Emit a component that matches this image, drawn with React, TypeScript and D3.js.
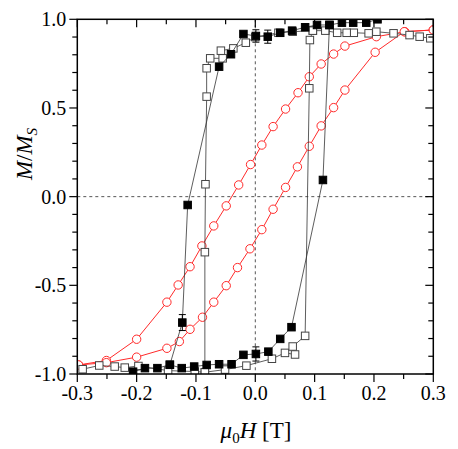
import * as d3 from "d3";

// filled squares, branch from positive to negative field
const filledDown: [number, number][] = [
  [0.206, 1.0], [0.187, 0.981], [0.165, 0.981], [0.146, 0.981], [0.125, 0.968],
  [0.104, 0.968], [0.084, 0.955], [0.062, 0.936], [0.042, 0.924], [0.021, 0.902],
  [0.001, 0.906], [-0.02, 0.917], [-0.041, 0.803], [-0.061, 0.733], [-0.114, -0.047],
  [-0.123, -0.71], [-0.144, -0.948], [-0.165, -0.967], [-0.186, -0.967], [-0.206, -0.987],
];
const filledUp: [number, number][] = [
  [-0.144, -0.948], [-0.124, -0.967], [-0.103, -0.958], [-0.082, -0.949], [-0.061, -0.945],
  [-0.04, -0.945], [-0.02, -0.892], [0.001, -0.887], [0.022, -0.874], [0.042, -0.802],
  [0.061, -0.736], [0.114, 0.094], [0.125, 0.968],
];
// open squares
const openDown: [number, number][] = [
  [0.295, 0.893], [0.277, 0.902], [0.26, 0.911], [0.233, 0.921], [0.204, 0.93],
  [0.191, 0.921], [0.166, 0.924], [0.154, 0.924], [0.138, 0.924], [0.118, 0.936],
  [0.097, 0.936], [0.063, 0.93], [0.039, 0.924], [0.0, 0.9], [-0.016, 0.868],
  [-0.037, 0.836], [-0.058, 0.823], [-0.055, 0.78], [-0.076, 0.78], [-0.082, 0.724],
  [-0.082, 0.564], [-0.084, 0.07], [-0.085, -0.313], [-0.085, -0.99], [-0.102, -0.986],
  [-0.147, -0.981], [-0.197, -0.955], [-0.22, -0.964], [-0.237, -0.958], [-0.263, -0.952],
  [-0.291, -0.973],
];
const openUp: [number, number][] = [
  [-0.085, -0.99], [-0.051, -0.975], [-0.015, -0.953], [0.028, -0.914], [0.05, -0.881],
  [0.067, -0.89], [0.063, -0.845], [0.084, -0.785], [0.091, 0.611], [0.092, 0.883],
  [0.097, 0.936],
];
// red open circles
const redDown: [number, number][] = [
  [0.3, 0.94], [0.252, 0.93], [0.204, 0.902], [0.151, 0.849], [0.132, 0.804],
  [0.111, 0.748], [0.091, 0.676], [0.072, 0.586], [0.051, 0.494], [0.03, 0.395],
  [0.011, 0.291], [-0.008, 0.181], [-0.028, 0.066], [-0.049, -0.052], [-0.07, -0.165],
  [-0.09, -0.278], [-0.11, -0.395], [-0.13, -0.498], [-0.149, -0.595], [-0.2, -0.804],
  [-0.251, -0.924], [-0.298, -0.949],
];
const redUp: [number, number][] = [
  [-0.298, -0.949], [-0.251, -0.936], [-0.2, -0.905], [-0.149, -0.855], [-0.128, -0.817],
  [-0.11, -0.748], [-0.089, -0.68], [-0.07, -0.595], [-0.049, -0.502], [-0.03, -0.4],
  [-0.009, -0.294], [0.011, -0.186], [0.03, -0.071], [0.051, 0.052], [0.071, 0.168],
  [0.091, 0.284], [0.111, 0.399], [0.132, 0.502], [0.151, 0.601], [0.202, 0.814],
  [0.251, 0.93], [0.3, 0.94],
];
// error bars on filled squares [x, y, half-width]
const errBars: [number, number, number][] = [
  [0.001, 0.906, 0.035], [0.021, 0.902, 0.037], [0.001, -0.887, 0.04], [-0.123, -0.71, 0.045],
];

const xTicks = [-0.3, -0.2, -0.1, 0.0, 0.1, 0.2, 0.3];
const yTicks = [-1.0, -0.5, 0.0, 0.5, 1.0];

const serif = { fontFamily: "Liberation Serif" };

export default function App() {
  const width = 458;
  const height = 449;
  const x = d3.scaleLinear().domain([-0.3, 0.3]).range([77.3, 433.3]);
  const y = d3.scaleLinear().domain([-1, 1]).range([374, 19.3]);
  const line = d3
    .line<[number, number]>()
    .x((d) => x(d[0]))
    .y((d) => y(d[1]));
  const [x0, x1] = x.range();
  const [y0, y1] = y.range();
  const minorX = d3.range(-0.3, 0.3001, 0.05);
  const minorY = d3.range(-1, 1.0001, 0.1);
  const sq = 7.5;
  const lineColor = "#333";

  return (
    <svg
      width={width}
      height={height}
      style={{ position: "absolute", left: 0, top: 0, background: "#fff" }}
    >
      <defs>
        <clipPath id="plot">
          <rect x={x0} y={y1} width={x1 - x0} height={y0 - y1} />
        </clipPath>
      </defs>

      {/* zero lines */}
      <line x1={x(0)} x2={x(0)} y1={y1} y2={y0} stroke="#555" strokeDasharray="3,3" />
      <line x1={x0} x2={x1} y1={y(0)} y2={y(0)} stroke="#555" strokeDasharray="3,3" />

      <g clipPath="url(#plot)">
        {[redDown, redUp].map((s, i) => (
          <g key={"r" + i}>
            <path d={line(s) ?? ""} fill="none" stroke="#ff2a2a" strokeWidth={1} />
            {s.map((d, j) => (
              <circle key={j} cx={x(d[0])} cy={y(d[1])} r={4.2} fill="#fff" stroke="#ff2a2a" strokeWidth={1} />
            ))}
          </g>
        ))}
        {[openDown, openUp].map((s, i) => (
          <g key={"o" + i}>
            <path d={line(s) ?? ""} fill="none" stroke={lineColor} strokeWidth={0.8} />
            {s.map((d, j) => (
              <rect
                key={j}
                x={x(d[0]) - sq / 2}
                y={y(d[1]) - sq / 2}
                width={sq}
                height={sq}
                fill="#fff"
                stroke="#444"
                strokeWidth={1}
              />
            ))}
          </g>
        ))}
        {[filledDown, filledUp].map((s, i) => (
          <g key={"f" + i}>
            <path d={line(s) ?? ""} fill="none" stroke={lineColor} strokeWidth={0.8} />
            {s.map((d, j) => (
              <rect
                key={j}
                x={x(d[0]) - sq / 2}
                y={y(d[1]) - sq / 2}
                width={sq}
                height={sq}
                fill="#000"
                stroke="#000"
              />
            ))}
          </g>
        ))}
        {errBars.map(([ex, ey, e], i) => (
          <g key={"e" + i} stroke="#000" strokeWidth={1}>
            <line x1={x(ex)} x2={x(ex)} y1={y(ey - e)} y2={y(ey + e)} />
            <line x1={x(ex) - 3.5} x2={x(ex) + 3.5} y1={y(ey - e)} y2={y(ey - e)} />
            <line x1={x(ex) - 3.5} x2={x(ex) + 3.5} y1={y(ey + e)} y2={y(ey + e)} />
          </g>
        ))}
      </g>

      {/* frame */}
      <rect x={x0} y={y1} width={x1 - x0} height={y0 - y1} fill="none" stroke="#000" strokeWidth={1.5} />

      {/* x ticks: bottom outward, top inward */}
      {minorX.map((v, i) => {
        const major = i % 2 === 0;
        const len = major ? 8 : 5;
        return (
          <g key={"xt" + i} stroke="#000" strokeWidth={1.2}>
            <line x1={x(v)} x2={x(v)} y1={y0} y2={y0 + len} />
            <line x1={x(v)} x2={x(v)} y1={y1} y2={y1 + len} />
          </g>
        );
      })}
      {minorY.map((v, i) => {
        const major = i % 5 === 0;
        const len = major ? 8 : 5;
        return (
          <g key={"yt" + i} stroke="#000" strokeWidth={1.2}>
            <line x1={x0} x2={x0 - len} y1={y(v)} y2={y(v)} />
            <line x1={x1} x2={x1 - len} y1={y(v)} y2={y(v)} />
          </g>
        );
      })}

      {xTicks.map((v) => (
        <text key={"xl" + v} x={x(v)} y={y0 + 26} textAnchor="middle" fontSize={20} fill="#000" style={serif}>
          {v.toFixed(1)}
        </text>
      ))}
      {yTicks.map((v) => (
        <text
          key={"yl" + v}
          x={x0 - 11}
          y={y(v)}
          textAnchor="end"
          dominantBaseline="central"
          fontSize={20}
          fill="#000"
          style={serif}
        >
          {v.toFixed(1)}
        </text>
      ))}

      {/* axis titles */}
      <text x={256} y={438} textAnchor="middle" fontSize={23} fill="#000" style={serif}>
        <tspan fontStyle="italic">μ</tspan>
        <tspan fontSize={15} dy={5}>0</tspan>
        <tspan fontStyle="italic" dy={-5}>H</tspan>
        <tspan> [T]</tspan>
      </text>
      <text
        transform={`translate(32,154) rotate(-90)`}
        textAnchor="middle"
        fontSize={23}
        fill="#000"
        style={serif}
      >
        <tspan fontStyle="italic">M</tspan>
        <tspan>/</tspan>
        <tspan fontStyle="italic">M</tspan>
        <tspan fontStyle="italic" fontSize={15} dy={5}>S</tspan>
      </text>
    </svg>
  );
}
